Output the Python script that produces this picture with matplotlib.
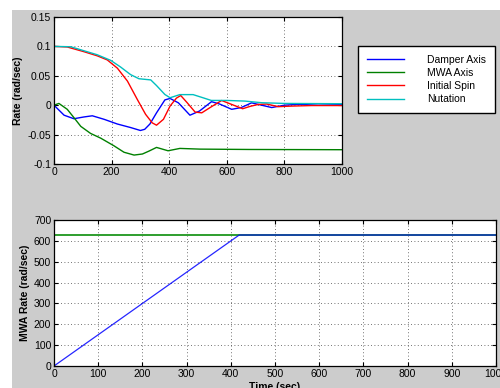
import matplotlib
matplotlib.use("Agg")
import matplotlib.pyplot as plt
from matplotlib.patches import Rectangle

plt.rcParams["font.family"] = ["Liberation Sans", "DejaVu Sans"]
plt.rcParams["font.size"] = 7.5

# ---- top panel: body rates (rad/sec) vs time (sec) ----
damper_t = [0, 35, 69, 104, 133, 174, 220, 266, 300, 315, 333, 356, 385, 403,
            432, 472, 505, 547, 575, 617, 650, 686, 721, 756, 800, 848, 917, 1000]
damper = [0.0, -0.017, -0.023, -0.020, -0.018, -0.024, -0.032, -0.038, -0.043,
          -0.041, -0.032, -0.013, 0.009, 0.0115, 0.004, -0.017, -0.010, 0.006,
          0.002, -0.007, -0.004, 0.004, 0.0, -0.004, 0.0, 0.0015, 0.0, 0.001]

mwa_t = [0, 17, 46, 69, 93, 127, 162, 208, 243, 278, 307, 330, 356, 396, 437,
         507, 681, 1000]
mwa = [0.0, 0.003, -0.007, -0.021, -0.036, -0.048, -0.056, -0.069, -0.080,
       -0.0848, -0.083, -0.078, -0.0718, -0.0775, -0.0735, -0.0747, -0.0753,
       -0.0757]

spin_t = [0, 46, 104, 150, 185, 220, 255, 289, 318, 341, 356, 380, 403, 425,
          440, 461, 490, 513, 542, 582, 617, 655, 681, 709, 738, 779, 826, 895,
          1000]
spin = [0.1, 0.099, 0.091, 0.084, 0.077, 0.063, 0.041, 0.010, -0.0155, -0.030,
        -0.034, -0.024, -0.0015, 0.012, 0.0165, 0.005, -0.0117, -0.013, -0.004,
        0.008, 0.0013, -0.006, -0.002, 0.0013, 0.002, -0.0025, -0.0015,
        -0.0006, -0.0006]

nut_t = [0, 58, 104, 150, 197, 231, 266, 295, 336, 356, 385, 403, 437, 483,
         517, 546, 600, 663, 721, 800, 1000]
nut = [0.1, 0.0994, 0.0926, 0.0858, 0.0762, 0.065, 0.052, 0.045, 0.043, 0.0334,
       0.0182, 0.0127, 0.018, 0.018, 0.0127, 0.0081, 0.0081, 0.007, 0.0042,
       0.003, 0.0025]

# ---- bottom panel: momentum wheel rate ----
wheel_t = [0, 419, 1000]
wheel = [0, 628, 628]
cmd_t = [0, 1000]
cmd = [628, 628]

fig = plt.figure(figsize=(5.0, 3.88), dpi=100)
fig.add_artist(Rectangle((12 / 500, 0), 1, 1 - 10 / 388, transform=fig.transFigure,
                         facecolor="#cccccc", edgecolor="none", zorder=-10))

ax1 = fig.add_axes([54 / 500, 1 - 164 / 388, 288 / 500, 147 / 388])
ax2 = fig.add_axes([54 / 500, 1 - 366 / 388, 442 / 500, 146 / 388])

grid_kw = dict(color="#444444", linestyle=(0, (1, 3)), linewidth=0.6)

l1, = ax1.plot(damper_t, damper, color="#0000ff", lw=1, label="Damper Axis")
l2, = ax1.plot(mwa_t, mwa, color="#008000", lw=1, label="MWA Axis")
l3, = ax1.plot(spin_t, spin, color="#ff0000", lw=1, label="Initial Spin")
l4, = ax1.plot(nut_t, nut, color="#00bfbf", lw=1, label="Nutation")
ax1.set_xlim(0, 1000)
ax1.set_ylim(-0.1, 0.15)
ax1.set_xticks(range(0, 1001, 200))
ax1.set_yticks([-0.1, -0.05, 0, 0.05, 0.1, 0.15])
ax1.set_yticklabels(["-0.1", "-0.05", "0", "0.05", "0.1", "0.15"])
ax1.set_ylabel("Rate (rad/sec)", fontweight="bold", labelpad=3)
ax1.grid(True, **grid_kw)

ax2.plot(cmd_t, cmd, color="#2e9e2e", lw=1.4)
ax2.plot(wheel_t, wheel, color="#0000ff", lw=0.9, alpha=0.85)
ax2.set_xlim(0, 1000)
ax2.set_ylim(0, 700)
ax2.set_xticks(range(0, 1001, 100))
ax2.set_yticks(range(0, 701, 100))
ax2.set_ylabel("MWA Rate (rad/sec)", fontweight="bold", labelpad=3)
ax2.set_xlabel("Time (sec)", fontweight="bold", labelpad=2)
ax2.grid(True, **grid_kw)

for ax in (ax1, ax2):
    ax.set_facecolor("white")
    ax.tick_params(direction="in", length=3, width=0.8, top=True, right=True, pad=2)
    for s in ax.spines.values():
        s.set_linewidth(0.9)

fig.legend(handles=[l1, l2, l3, l4], loc="upper left",
           bbox_to_anchor=(358 / 500, 1 - 46 / 388), fancybox=False,
           edgecolor="black", framealpha=1, fontsize=7.5, handlelength=3.6,
           handletextpad=2.2, labelspacing=0.3, borderpad=0.85,
           borderaxespad=0)

fig.savefig("out.png", dpi=100)
